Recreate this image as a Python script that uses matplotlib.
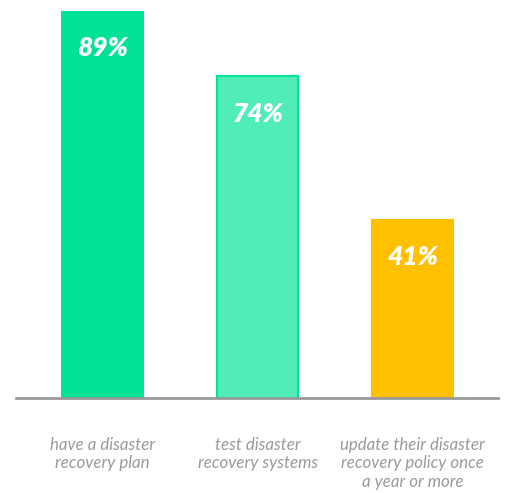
import matplotlib
import matplotlib.pyplot as plt

matplotlib.use('Agg')

# Data
categories = ["have a disaster\nrecovery plan",
              "test disaster\nrecovery systems",
              "update their disaster\nrecovery policy once\na year or more"]
values = [89, 74, 41]
fills = ["#00E396", "#50EDB8", "#FFC000"]
edges = ["#00E396", "#00E396", "#FFC000"]

plt.rcParams['font.family'] = ['Lato', 'DejaVu Sans']

fig = plt.figure(figsize=(5.06, 4.93), dpi=100)
ax = fig.add_axes([16 / 506, 95 / 493, 482 / 506, 387 / 493])

x = list(range(len(values)))
ax.bar(x, values, width=0.52, color=fills, edgecolor=edges, linewidth=1.5)

for xi, v in zip(x, values):
    ax.annotate(f"{v}%", xy=(xi, v), xytext=(0, -27), textcoords="offset points",
                ha="center", va="center", color="white", fontsize=19,
                fontweight="heavy", style="italic")

for xi, c in zip(x, categories):
    ax.annotate(c, xy=(xi, 0), xytext=(0, -28), textcoords="offset points",
                ha="center", va="top", color="#9a9a9a", fontsize=12.2,
                style="italic", linespacing=1.2, annotation_clip=False)

ax.set_xlim(-0.558, 2.55)
ax.set_ylim(0, 89)
for s in ["top", "right", "left"]:
    ax.spines[s].set_visible(False)
ax.spines["bottom"].set_color("#999999")
ax.spines["bottom"].set_linewidth(2)
ax.set_xticks([])
ax.set_yticks([])

fig.savefig("out.png", dpi=100)
